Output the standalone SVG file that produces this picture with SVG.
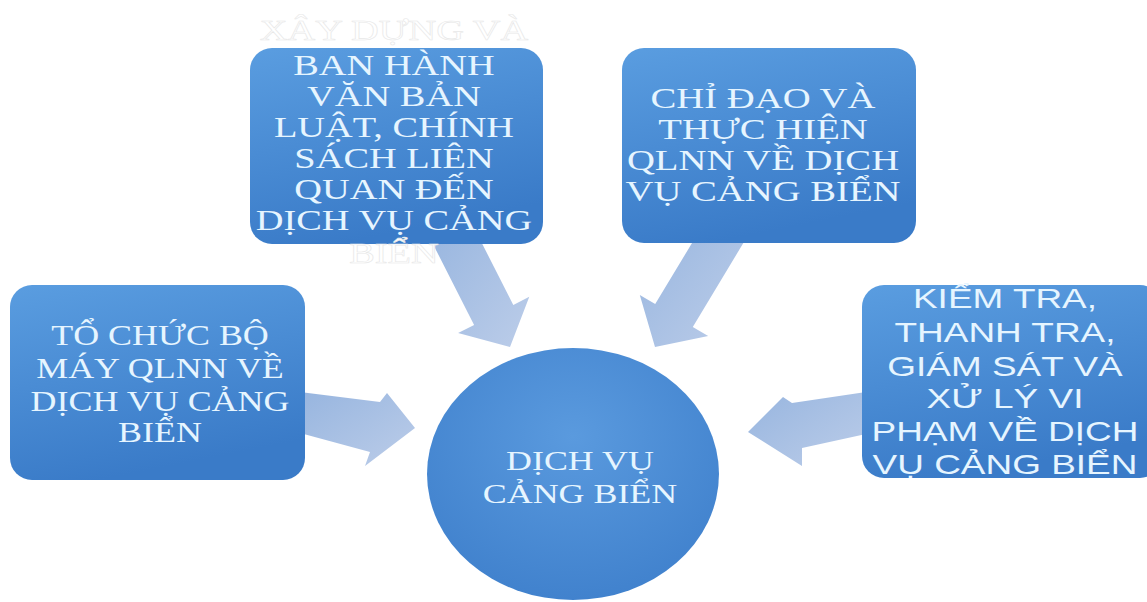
<svg xmlns="http://www.w3.org/2000/svg" width="1147" height="602" viewBox="0 0 1147 602">
<defs>
<linearGradient id="boxg" x1="0" y1="0" x2="0.3" y2="1">
<stop offset="0" stop-color="#5a9de0"/>
<stop offset="1" stop-color="#3a7bc8"/>
</linearGradient>
<radialGradient id="circg" cx="0.5" cy="0.35" r="0.7">
<stop offset="0" stop-color="#5a9ade"/>
<stop offset="1" stop-color="#3f80cc"/>
</radialGradient>
<linearGradient id="arrg" x1="0" y1="0" x2="1" y2="1">
<stop offset="0" stop-color="#97b5df"/>
<stop offset="1" stop-color="#bccde9"/>
</linearGradient>
</defs>
<style>
.box{fill:url(#boxg);}
.t{font-family:"Liberation Serif","Times New Roman",serif;fill:#e6f5ff;text-anchor:middle;}
.ts{font-family:"Liberation Sans",Arial,sans-serif;fill:#e6f5ff;text-anchor:middle;}
.ov{font-family:"Liberation Serif","Times New Roman",serif;fill:#ffffff;stroke:#e8e8e8;stroke-width:0.6;text-anchor:middle;}
.arr{fill:url(#arrg);}
</style>
<g id="connectors">
<polygon class="arr" points="430.4,239 474.1,324.9 458.1,333.1 510,347 529.3,296.7 513.3,304.9 469.6,219"/>
<polygon class="arr" points="706.8,218.5 655.2,304.1 639.8,294.9 655,347 708.2,336.1 692.8,326.9 744.4,241.3"/>
<polygon class="arr" points="300,392 380,402 387,393 415,428 365,466 370,452 300,433"/>
<polygon class="arr" points="866,392 792,403 783,397 748,432 802,466 802,448 866,434"/>
</g>
<g id="node-xaydung">
<rect class="box" x="250" y="48" width="293" height="196" rx="22"/>
<g transform="translate(394,0) scale(1.28,1)">
<text class="ov" x="0" y="40" font-size="30">XÂY DỰNG VÀ</text>
<text class="t" x="0" y="75" font-size="30">BAN HÀNH</text>
<text class="t" x="0" y="106" font-size="30">VĂN BẢN</text>
<text class="t" x="0" y="137" font-size="30">LUẬT, CHÍNH</text>
<text class="t" x="0" y="168" font-size="30">SÁCH LIÊN</text>
<text class="t" x="0" y="199" font-size="30">QUAN ĐẾN</text>
<text class="t" x="0" y="230" font-size="30">DỊCH VỤ CẢNG</text>
<text class="ov" x="0" y="263" font-size="30">BIỂN</text>
</g>
</g>
<g id="node-chidao">
<rect class="box" x="622" y="48" width="294" height="195" rx="22"/>
<g transform="translate(763,0) scale(1.29,1)">
<text class="t" x="0" y="108" font-size="30">CHỈ ĐẠO VÀ</text>
<text class="t" x="0" y="139" font-size="30">THỰC HIỆN</text>
<text class="t" x="0" y="170" font-size="30">QLNN VỀ DỊCH</text>
<text class="t" x="0" y="201" font-size="30">VỤ CẢNG BIỂN</text>
</g>
</g>
<g id="node-tochuc">
<rect class="box" x="10" y="285" width="295" height="195" rx="22"/>
<g transform="translate(160,0) scale(1.24,1)">
<text class="t" x="0" y="345" font-size="29">TỔ CHỨC BỘ</text>
<text class="t" x="0" y="378" font-size="29">MÁY QLNN VỀ</text>
<text class="t" x="0" y="411" font-size="29">DỊCH VỤ CẢNG</text>
<text class="t" x="0" y="442" font-size="29">BIỂN</text>
</g>
</g>
<g id="node-kiemtra">
<rect class="box" x="862" y="285" width="300" height="193" rx="22"/>
<g transform="translate(1005,0) scale(1.32,1)">
<text class="ts" x="0" y="308" font-size="28">KIỂM TRA,</text>
<text class="ts" x="0" y="342" font-size="28">THANH TRA,</text>
<text class="ts" x="0" y="376" font-size="28">GIÁM SÁT VÀ</text>
<text class="ts" x="0" y="408" font-size="28">XỬ LÝ VI</text>
<text class="ts" x="0" y="441" font-size="28">PHẠM VỀ DỊCH</text>
<text class="ts" x="0" y="474" font-size="28">VỤ CẢNG BIỂN</text>
</g>
</g>
<g id="node-center">
<ellipse cx="573" cy="474" rx="146" ry="126" fill="url(#circg)"/>
<g transform="translate(580,0) scale(1.33,1)">
<text class="t" x="0" y="470" font-size="27">DỊCH VỤ</text>
<text class="t" x="0" y="503" font-size="27">CẢNG BIỂN</text>
</g>
</g>
</svg>
